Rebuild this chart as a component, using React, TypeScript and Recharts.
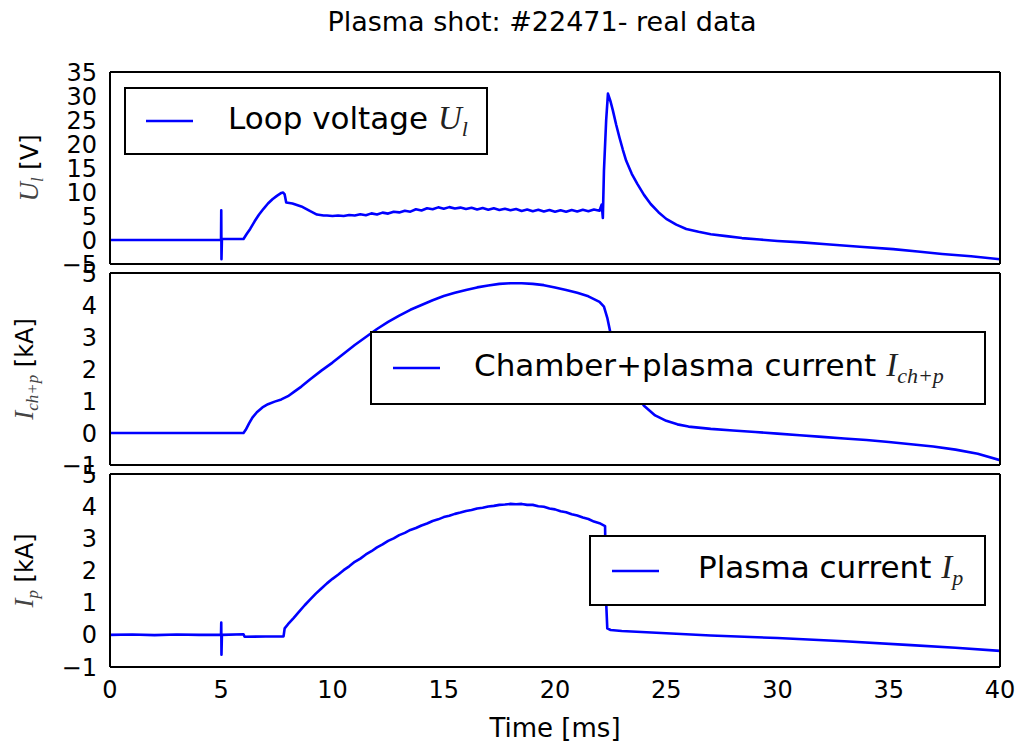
import React from 'react';
import { LineChart, Line, XAxis, YAxis, Legend } from 'recharts';

const titleText = 'Plasma shot: #22471- real data';
const xLabelText = 'Time [ms]';
const xTicks = [0, 5, 10, 15, 20, 25, 30, 35, 40];
const ulTicks = [-5, 0, 5, 10, 15, 20, 25, 30, 35];
const iTicks = [-1, 0, 1, 2, 3, 4, 5];

// Loop voltage U_l [V]
const ulTime = [
  0, 4.99, 5.0, 5.01, 5.03, 6.0, 6.15, 6.3, 6.5, 6.7, 6.9, 7.1, 7.3, 7.5, 7.7, 7.78, 7.85, 7.92,
  8.2, 8.6, 9.0, 9.3, 9.6, 9.75, 10.0, 10.25, 10.5, 10.75, 11.0, 11.25, 11.5, 11.75, 12.0, 12.25,
  12.5, 12.75, 13.0, 13.25, 13.5, 13.75, 14.0, 14.25, 14.5, 14.75, 15.0, 15.25, 15.5, 15.75, 16.0,
  16.25, 16.5, 16.75, 17.0, 17.25, 17.5, 17.75, 18.0, 18.25, 18.5, 18.75, 19.0, 19.25, 19.5, 19.75,
  20.0, 20.25, 20.5, 20.75, 21.0, 21.25, 21.5, 21.75, 22.0, 22.1, 22.15, 22.2, 22.3, 22.38, 22.5,
  22.6, 22.75, 22.9, 23.05, 23.2, 23.45, 23.7, 24.0, 24.3, 24.65, 25.0, 25.45, 25.9, 26.45, 27.0,
  27.7, 28.4, 29.2, 30.0, 31.1, 32.2, 33.7, 35.2, 36.3, 37.4, 38.7, 40.0,
];
const ulValues = [
  0, 0, 6.2, -4.0, 0.2, 0.2, 1.3, 2.3, 3.9, 5.3, 6.5, 7.6, 8.5, 9.2, 9.8, 9.9, 9.5, 7.8,
  7.6, 7.0, 6.0, 5.3, 5.1, 5.1, 5.0, 5.1, 5.0, 5.2, 5.1, 5.35, 5.15, 5.55, 5.3, 5.7,
  5.5, 5.9, 5.75, 6.1, 5.9, 6.4, 6.15, 6.6, 6.4, 6.8, 6.5, 6.85, 6.55, 6.75, 6.45,
  6.7, 6.35, 6.65, 6.3, 6.6, 6.25, 6.5, 6.2, 6.45, 6.05, 6.35, 6.0, 6.3, 5.95, 6.25,
  5.9, 6.2, 5.9, 6.25, 5.95, 6.3, 6.0, 6.35, 6.1, 7.4, 4.6, 14.4, 25.0, 30.5, 28.8,
  27.0, 24.0, 21.3, 18.8, 16.5, 13.8, 11.7, 9.4, 7.5, 5.8, 4.4, 3.2, 2.3, 1.7, 1.2,
  0.8, 0.4, 0.1, -0.2, -0.5, -0.9, -1.4, -1.9, -2.4, -2.9, -3.4, -4.0,
];

// Chamber + plasma current I_ch+p [kA]
const ichTime = [
  0, 6.0, 6.1, 6.25, 6.4, 6.6, 6.85, 7.1, 7.4, 7.7, 8.0, 8.3, 8.6, 9.0, 9.5, 10.0, 10.5, 11.0,
  11.5, 12.0, 12.5, 13.0, 13.5, 14.0, 14.5, 15.0, 15.5, 16.0, 16.5, 17.0, 17.5, 18.0, 18.5, 19.0,
  19.5, 20.0, 20.5, 21.0, 21.5, 22.0, 22.2, 22.35, 22.5, 22.75, 23.0, 23.5, 24.0, 24.5, 25.0, 25.5,
  26.0, 27.0, 28.0, 29.0, 30.0, 31.0, 32.0, 33.0, 34.0, 35.0, 36.0, 37.0, 38.0, 39.0, 40.0,
];
const ichValues = [
  0, 0, 0.1, 0.3, 0.48, 0.65, 0.8, 0.9, 0.98, 1.05, 1.15, 1.3, 1.45, 1.68, 1.95, 2.2, 2.48, 2.75,
  3.0, 3.25, 3.47, 3.67, 3.85, 4.0, 4.15, 4.28, 4.38, 4.47, 4.55, 4.61, 4.66, 4.68, 4.68, 4.66,
  4.62, 4.55, 4.47, 4.38, 4.27, 4.1, 3.95, 3.6, 3.1, 2.5, 2.0, 1.3, 0.85, 0.55, 0.38, 0.27,
  0.2, 0.13, 0.08, 0.03, -0.02, -0.07, -0.12, -0.17, -0.22, -0.28, -0.35, -0.42, -0.52, -0.65, -0.85,
];

// Plasma current I_p [kA]
const ipTime = [
  0, 1.0, 2.0, 3.0, 4.0, 4.99, 5.0, 5.01, 5.03, 6.0, 6.05, 7.0, 7.8, 7.85, 8.0, 8.25, 8.5, 8.75,
  9.0, 9.25, 9.5, 9.75, 10.0, 10.25, 10.5, 10.75, 11.0, 11.25, 11.5, 11.75, 12.0, 12.25, 12.5,
  12.75, 13.0, 13.25, 13.5, 13.75, 14.0, 14.25, 14.5, 14.75, 15.0, 15.25, 15.5, 15.75, 16.0, 16.25,
  16.5, 16.75, 17.0, 17.25, 17.5, 17.75, 18.0, 18.25, 18.5, 18.75, 19.0, 19.25, 19.5, 19.75, 20.0,
  20.25, 20.5, 20.75, 21.0, 21.25, 21.5, 21.75, 22.0, 22.25, 22.3, 22.35, 22.5, 23.0, 25.0, 27.0,
  30.0, 33.0, 36.0, 38.0, 40.0,
];
const ipValues = [
  0, 0.01, -0.01, 0.01, 0, 0, 0.38, -0.62, 0, 0.02, -0.06, -0.05, -0.05, 0.2, 0.33, 0.52, 0.72, 0.92,
  1.1, 1.28, 1.44, 1.6, 1.74, 1.87, 2.01, 2.13, 2.27, 2.37, 2.5, 2.6, 2.72, 2.81, 2.92,
  3.0, 3.1, 3.17, 3.26, 3.32, 3.4, 3.46, 3.54, 3.59, 3.66, 3.7, 3.76, 3.8, 3.85, 3.88,
  3.93, 3.95, 3.99, 4.01, 4.04, 4.05, 4.07, 4.06, 4.07, 4.04, 4.04, 4.0, 3.98, 3.93, 3.9,
  3.84, 3.81, 3.75, 3.71, 3.65, 3.6, 3.52, 3.47, 3.38, 1.0, 0.2, 0.15, 0.12, 0.05, -0.02,
  -0.1, -0.2, -0.32, -0.4, -0.5,
];

const toRows = (ts: number[], vs: number[]) => ts.map((t, i) => ({ t, v: vs[i] }));
const ulData = toRows(ulTime, ulValues);
const ichData = toRows(ichTime, ichValues);
const ipData = toRows(ipTime, ipValues);

const FONT = 'DejaVu Sans';
const MATH = 'Liberation Serif';
const BLUE = '#0000ff';
const fmt = (v: number) => (v < 0 ? '\u2212' + Math.abs(v) : String(v));

type LegendSpec = { left: number; top: number; width: number; height: number; pad: number; gap: number; text: string; sym: string; sub: string };

function LegendBox({ spec }: { spec: LegendSpec }) {
  return (
    <div
      style={{
        boxSizing: 'border-box',
        width: spec.width,
        height: spec.height,
        border: '2px solid #000',
        background: '#fff',
        display: 'flex',
        alignItems: 'center',
        paddingLeft: spec.pad,
      }}
    >
      <svg width={47} height={6} style={{ display: 'block', flex: 'none' }}>
        <line x1={0} y1={3} x2={47} y2={3} stroke={BLUE} strokeWidth={2.5} />
      </svg>
      <span style={{ marginLeft: spec.gap, fontFamily: FONT, fontSize: 31, color: '#000', whiteSpace: 'nowrap', lineHeight: 1, position: 'relative', top: -3 }}>
        {spec.text}
        <span style={{ fontFamily: MATH, fontStyle: 'italic', fontSize: 33, color: '#222' }}>{spec.sym}</span>
        <span style={{ fontFamily: MATH, fontStyle: 'italic', fontSize: 22, color: '#222', position: 'relative', top: 7 }}>{spec.sub}</span>
      </span>
    </div>
  );
}

type PanelProps = {
  top: number;
  height: number;
  margin: { top: number; right: number; bottom: number; left: number };
  data: { t: number; v: number }[];
  domain: [number, number];
  yTicks: number[];
  labelSym: string;
  labelSub: string;
  labelUnit: string;
  labelX: number;
  legend: LegendSpec;
  showX: boolean;
};

function Panel(p: PanelProps) {
  const yLabel = (props: any) => {
    const vb = props.viewBox || { x: 50, y: 0, width: 60, height: 0 };
    const cy = vb.y + vb.height / 2;
    const cx = p.labelX;
    return (
      <text transform={`rotate(-90 ${cx} ${cy})`} x={cx} y={cy} textAnchor="middle" fontFamily={FONT} fontSize={24} fill="#000">
        <tspan fontFamily={MATH} fontStyle="italic" fontSize={27} fill="#444">{p.labelSym}</tspan>
        <tspan fontFamily={MATH} fontStyle="italic" fontSize={17} fill="#444" dy={5}>{p.labelSub}</tspan>
        <tspan dy={-5}>{' ' + p.labelUnit}</tspan>
      </text>
    );
  };
  const xLabel = (props: any) => {
    const vb = props.viewBox || { x: 110, y: 0, width: 890, height: 70 };
    return (
      <text x={vb.x + vb.width / 2} y={vb.y + 70} textAnchor="middle" fontFamily={FONT} fontSize={26} fill="#000">
        {xLabelText}
      </text>
    );
  };
  const frame = { stroke: '#000', strokeWidth: 2 };
  const tl = { stroke: '#000', strokeWidth: 1.3 };
  return (
    <div style={{ position: 'absolute', left: 0, top: p.top }}>
      <LineChart width={1021} height={p.height} margin={p.margin}>
        <XAxis xAxisId="b" type="number" dataKey="t" domain={[0, 40]} ticks={xTicks} interval={0} orientation="bottom" mirror height={10} tick={false} tickSize={10} tickLine={tl} axisLine={frame} allowDataOverflow />
        <XAxis xAxisId="t" type="number" dataKey="t" domain={[0, 40]} ticks={xTicks} interval={0} orientation="top" mirror height={10} tick={false} tickSize={10} tickLine={tl} axisLine={frame} allowDataOverflow />
        {p.showX && (
          <XAxis
            xAxisId="lab"
            type="number"
            dataKey="t"
            domain={[0, 40]}
            ticks={xTicks}
            interval={0}
            orientation="bottom"
            height={70}
            tickSize={0}
            tickMargin={14}
            tickLine={false}
            axisLine={false}
            tick={{ fill: '#000', fontSize: 24, fontFamily: FONT }}
            label={{ content: xLabel }}
            allowDataOverflow
          />
        )}
        <YAxis
          yAxisId="lab"
          type="number"
          domain={p.domain}
          ticks={p.yTicks}
          interval={0}
          orientation="left"
          width={60}
          tickSize={0}
          tickMargin={13}
          tickLine={false}
          axisLine={false}
          tickFormatter={fmt}
          tick={{ fill: '#000', fontSize: 24, fontFamily: FONT }}
          label={{ content: yLabel }}
          allowDataOverflow
        />
        <YAxis yAxisId="l" type="number" domain={p.domain} ticks={p.yTicks} interval={0} orientation="left" mirror width={10} tick={false} tickSize={10} tickLine={tl} axisLine={frame} allowDataOverflow />
        <YAxis yAxisId="r" type="number" domain={p.domain} ticks={p.yTicks} interval={0} orientation="right" mirror width={10} tick={false} tickSize={10} tickLine={tl} axisLine={frame} allowDataOverflow />
        <Line
          xAxisId="b"
          yAxisId="l"
          data={p.data}
          dataKey="v"
          type="linear"
          stroke={BLUE}
          strokeWidth={2.6}
          strokeLinejoin="round"
          dot={false}
          activeDot={false}
          isAnimationActive={false}
        />
        <Legend
          verticalAlign="middle"
          align="center"
          layout="horizontal"
          wrapperStyle={{ position: 'absolute', left: p.legend.left, top: p.legend.top - p.top, width: p.legend.width, height: p.legend.height, margin: 0 }}
          content={() => <LegendBox spec={p.legend} />}
        />
      </LineChart>
    </div>
  );
}

export default function App() {
  return (
    <div style={{ position: 'absolute', left: 0, top: 0, width: 1021, height: 744, background: '#fff', overflow: 'hidden' }}>
      <div
        style={{
          position: 'absolute',
          left: 242,
          top: 8,
          width: 600,
          textAlign: 'center',
          fontFamily: FONT,
          fontSize: 27,
          lineHeight: 1,
          color: '#000',
          whiteSpace: 'nowrap',
        }}
      >
        {titleText}
      </div>
      <Panel
        top={0}
        height={300}
        margin={{ top: 72, right: 21, bottom: 36, left: 50 }}
        data={ulData}
        domain={[-5, 35]}
        yTicks={ulTicks}
        labelSym="U"
        labelSub="l"
        labelUnit="[V]"
        labelX={38}
        legend={{ left: 124, top: 87, width: 364, height: 68, pad: 20, gap: 35, text: 'Loop voltage ', sym: 'U', sub: 'l' }}
        showX={false}
      />
      <Panel
        top={240}
        height={250}
        margin={{ top: 33, right: 21, bottom: 25, left: 50 }}
        data={ichData}
        domain={[-1, 5]}
        yTicks={iTicks}
        labelSym="I"
        labelSub="ch+p"
        labelUnit="[kA]"
        labelX={33}
        legend={{ left: 370, top: 331, width: 616, height: 74, pad: 21, gap: 34, text: 'Chamber+plasma current ', sym: 'I', sub: 'ch+p' }}
        showX={false}
      />
      <Panel
        top={440}
        height={304}
        margin={{ top: 34, right: 21, bottom: 7, left: 50 }}
        data={ipData}
        domain={[-1, 5]}
        yTicks={iTicks}
        labelSym="I"
        labelSub="p"
        labelUnit="[kA]"
        labelX={33}
        legend={{ left: 589, top: 535, width: 397, height: 71, pad: 21, gap: 39, text: 'Plasma current ', sym: 'I', sub: 'p' }}
        showX={true}
      />
    </div>
  );
}
